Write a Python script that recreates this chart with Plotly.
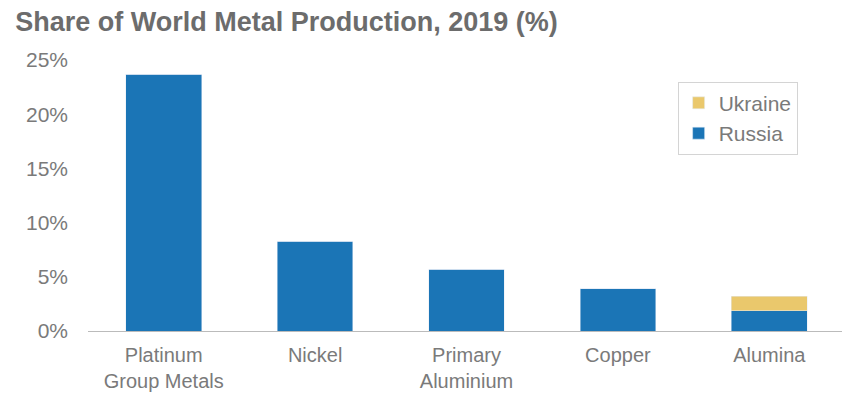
import plotly.graph_objects as go

categories = ["Platinum<br>Group Metals", "Nickel", "Primary<br>Aluminium", "Copper", "Alumina"]
russia = [23.7, 8.3, 5.7, 3.9, 1.85]
ukraine = [0, 0, 0, 0, 1.35]
y_ticks = [0, 5, 10, 15, 20, 25]
y_tick_labels = ["0%", "5%", "10%", "15%", "20%", "25%"]

fig = go.Figure()
fig.add_trace(go.Bar(x=categories, y=russia, name="Russia", marker_color="#1b75b6",
                     legendgroup="ru"))
fig.add_trace(go.Bar(x=categories, y=ukraine, name="Ukraine", marker_color="#eac86c",
                     legendgroup="ua"))

fig.update_layout(
    width=842, height=395,
    barmode="stack", bargap=0.5,
    paper_bgcolor="white", plot_bgcolor="white",
    margin=dict(l=88, r=0, t=60, b=64),
    font=dict(family="Liberation Sans, Arial, sans-serif", color="#7a7a7a", size=22),
    title=dict(text="<b>Share of World Metal Production, 2019 (%)</b>",
               x=0.018, xanchor="left", y=0.945, yanchor="middle",
               font=dict(size=27, color="#6c6c6c")),
    legend=dict(traceorder="reversed", x=0.782, xanchor="left", y=0.92, yanchor="top",
                bordercolor="#d4d4d4", borderwidth=1, bgcolor="white",
                font=dict(size=21, color="#7a7a7a"), itemwidth=30, tracegroupgap=6),
    showlegend=True,
)
fig.update_xaxes(range=[-0.5, 4.48], showline=True, linecolor="#bbbbbb", linewidth=1,
                 ticks="", showgrid=False, tickfont=dict(size=20), ticklabelstandoff=6,
                 automargin=False)
fig.update_yaxes(range=[0, 25], tickvals=y_ticks, ticktext=y_tick_labels, showgrid=False,
                 zeroline=False, showline=False, ticks="", ticklen=0,
                 tickfont=dict(size=21), ticklabelstandoff=19, automargin=False)

fig.write_html("out.html")
